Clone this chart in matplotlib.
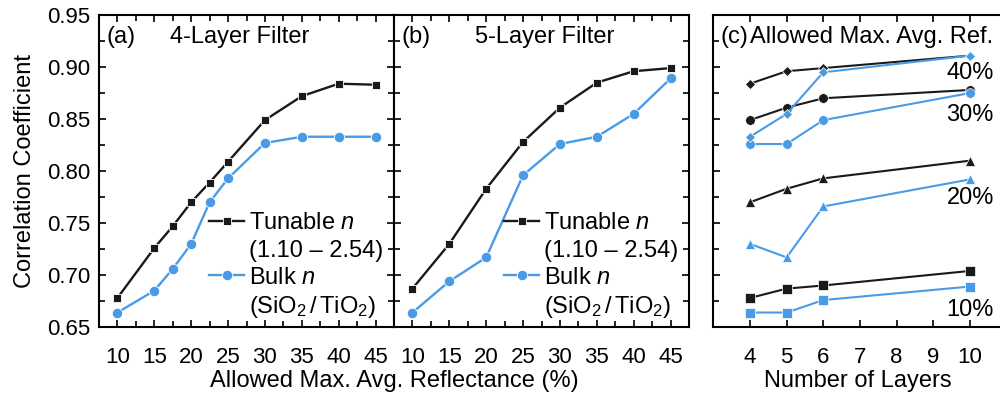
import numpy as np
import matplotlib
matplotlib.use("Agg")
import matplotlib.pyplot as plt
from matplotlib.ticker import MultipleLocator
from matplotlib.lines import Line2D

plt.rcParams['font.family'] = ['Liberation Sans', 'DejaVu Sans']
plt.rcParams['mathtext.fontset'] = 'custom'
plt.rcParams['mathtext.rm'] = 'Liberation Sans'
plt.rcParams['mathtext.it'] = 'Liberation Sans:italic'

# data
refl_a = [10, 15, 17.5, 20, 22.5, 25, 30, 35, 40, 45]
tun_a = [0.678, 0.726, 0.747, 0.770, 0.789, 0.809, 0.849, 0.872, 0.884, 0.883]
bulk_a = [0.664, 0.685, 0.706, 0.730, 0.770, 0.793, 0.827, 0.833, 0.833, 0.833]

refl_b = [10, 15, 20, 25, 30, 35, 40, 45]
tun_b = [0.687, 0.730, 0.783, 0.828, 0.861, 0.885, 0.896, 0.899]
bulk_b = [0.664, 0.694, 0.717, 0.796, 0.826, 0.833, 0.855, 0.889]

layers = [4, 5, 6, 10]
tun_c = {
    '10%': [0.678, 0.687, 0.690, 0.704],
    '20%': [0.770, 0.783, 0.793, 0.810],
    '30%': [0.849, 0.861, 0.870, 0.878],
    '40%': [0.884, 0.896, 0.899, 0.911],
}
bulk_c = {
    '10%': [0.664, 0.664, 0.676, 0.689],
    '20%': [0.730, 0.717, 0.766, 0.792],
    '30%': [0.826, 0.826, 0.849, 0.875],
    '40%': [0.833, 0.855, 0.895, 0.911],
}
markers_c = {'10%': 's', '20%': '^', '30%': 'o', '40%': 'D'}
label_y = {'10%': 0.666, '20%': 0.774, '30%': 0.854, '40%': 0.894}

black = '#1a1a1a'
blue = '#4a9be6'
fs = 17

fig = plt.figure(figsize=(10, 3.96), dpi=100)
ax_a = fig.add_axes([0.099, 0.174, 0.295, 0.788])
ax_b = fig.add_axes([0.394, 0.174, 0.295, 0.788])
ax_c = fig.add_axes([0.7133, 0.174, 0.2934, 0.788])


def style(ax, xminor=True):
    ax.set_ylim(0.65, 0.95)
    ax.yaxis.set_major_locator(MultipleLocator(0.05))
    ax.yaxis.set_minor_locator(MultipleLocator(0.025))
    if xminor:
        ax.xaxis.set_minor_locator(MultipleLocator(2.5))
    ax.tick_params(which='both', direction='in', top=True, right=True,
                   width=1.2, labelsize=16)
    ax.tick_params(axis='x', which='major', pad=14)
    ax.tick_params(axis='y', which='major', pad=6)
    ax.tick_params(which='major', length=5)
    ax.tick_params(which='minor', length=4)
    for s in ax.spines.values():
        s.set_linewidth(1.5)


for ax, x, t, b, name, lab in [(ax_a, refl_a, tun_a, bulk_a, '4-Layer Filter', '(a)'),
                               (ax_b, refl_b, tun_b, bulk_b, '5-Layer Filter', '(b)')]:
    lt, = ax.plot(x, t, color=black, lw=1.7, marker='s', ms=6,
                  mec='white', mew=0.6)
    lb, = ax.plot(x, b, color=blue, lw=1.7, marker='o', ms=7.5,
                  mec='white', mew=0.6)
    ax.set_xlim(7.5, 47.5)
    ax.xaxis.set_major_locator(MultipleLocator(5))
    style(ax)
    ax.text(0.025, 0.93, lab, transform=ax.transAxes, fontsize=fs, va='center')
    ax.text(0.24 if lab == '(a)' else 0.275, 0.93, name, transform=ax.transAxes,
            fontsize=fs, va='center')
    blank = Line2D([], [], linestyle='none')
    ax.legend([lt, blank, lb, blank],
              ['Tunable $n$', '(1.10 – 2.54)', 'Bulk $n$',
               r'(SiO$_2\,$/$\,$TiO$_2$)'],
              loc='lower right', bbox_to_anchor=(1.02, -0.03), frameon=False,
              fontsize=fs, handlelength=1.5, handletextpad=0.2,
              labelspacing=0.22, borderpad=0.2)

ax_b.tick_params(axis='y', labelleft=False)
ax_a.set_ylabel('Correlation Coefficient', fontsize=fs, labelpad=8)

for key in ['10%', '20%', '30%', '40%']:
    m = markers_c[key]
    ms = 5.5 if m == 'D' else 7
    ax_c.plot(layers, tun_c[key], color=black, lw=1.5, marker=m, ms=ms,
              mec='white', mew=0.5)
    ax_c.plot(layers, bulk_c[key], color=blue, lw=1.5, marker=m, ms=ms,
              mec='white', mew=0.5)
    ax_c.text(10.65, label_y[key], key, fontsize=fs, ha='right', va='center')

ax_c.set_xlim(3, 11)
ax_c.set_xticks([4, 5, 6, 7, 8, 9, 10])
style(ax_c, xminor=False)
ax_c.tick_params(axis='y', labelleft=False)
ax_c.text(0.024, 0.93, '(c)', transform=ax_c.transAxes, fontsize=fs, va='center')
ax_c.text(0.125, 0.93, 'Allowed Max. Avg. Ref.', transform=ax_c.transAxes,
          fontsize=fs, va='center')

fig.text(0.394, 0.038, 'Allowed Max. Avg. Reflectance (%)', fontsize=fs,
         ha='center', va='center')
fig.text(0.858, 0.038, 'Number of Layers', fontsize=fs, ha='center', va='center')

fig.savefig('out.png', dpi=100)
